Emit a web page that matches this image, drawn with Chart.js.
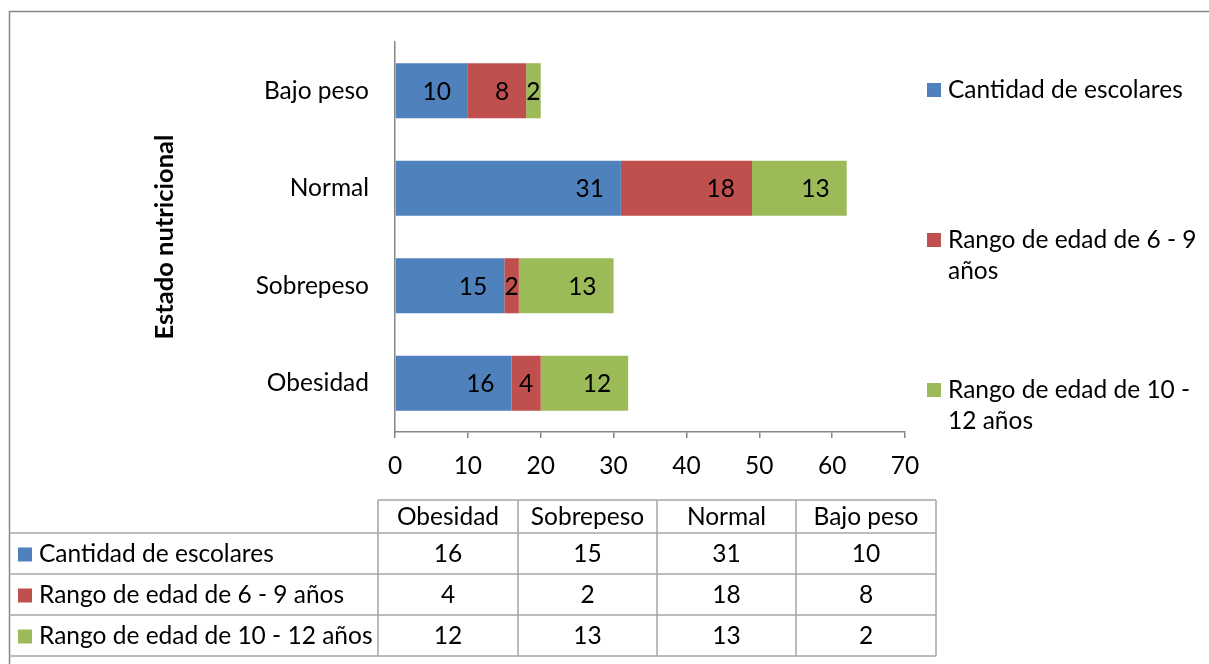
<!DOCTYPE html>
<html>
<head>
<meta charset="utf-8">
<script src="https://cdn.jsdelivr.net/npm/chart.js@4.4.1/dist/chart.umd.min.js"></script>
<style>
  html, body { margin: 0; padding: 0; background: #fff; }
</style>
</head>
<body>
<canvas id="estadoChart" width="1209" height="664"></canvas>
<script>
// datos (orden de la tabla de Excel)
const categories = ["Obesidad", "Sobrepeso", "Normal", "Bajo peso"];
const seriesNames = ["Cantidad de escolares", "Rango de edad de 6 - 9 años", "Rango de edad de 10 - 12 años"];
const cantidadEscolares = [16, 15, 31, 10];
const rango6a9 = [4, 2, 18, 8];
const rango10a12 = [12, 13, 13, 2];
const xTickValues = [0, 10, 20, 30, 40, 50, 60, 70];
const colors = ["#4F81BD", "#C0504D", "#9BBB59"];

const FONT = "Lato";
const FONT_SIZE = 24.5;
const TITLE_SIZE = 25.5;
const GRAY = "#868686";

function font(size, bold) {
    return (bold ? "bold " : "") + size + "px " + FONT;
}

// etiquetas de valor dentro de las barras (extremo interior)
const barLabels = {
    id: "barLabels",
    afterDatasetsDraw(chart) {
        const ctx = chart.ctx;
        ctx.save();
        ctx.font = font(FONT_SIZE);
        ctx.fillStyle = "#000";
        ctx.textAlign = "center";
        ctx.textBaseline = "middle";
        chart.data.datasets.forEach((ds, i) => {
            chart.getDatasetMeta(i).data.forEach((bar, j) => {
                const text = String(ds.data[j]);
                const w = ctx.measureText(text).width;
                const { x, base, y } = bar.getProps(["x", "base", "y"], true);
                const cx = Math.max((x + base) / 2, x - 17 - w / 2);
                ctx.fillText(text, cx, y + 1);
            });
        });
        ctx.restore();
    }
};

function wrapText(ctx, text, maxWidth) {
    const words = text.split(" ");
    const lines = [];
    let line = "";
    words.forEach(w => {
        const test = line ? line + " " + w : w;
        if (ctx.measureText(test).width > maxWidth && line) {
            lines.push(line);
            line = w;
        } else {
            line = test;
        }
    });
    lines.push(line);
    return lines;
}

// borde, leyenda a la derecha y tabla de datos
const extras = {
    id: "extras",
    afterDraw(chart) {
        const ctx = chart.ctx;
        const ds = chart.data.datasets;
        ctx.save();

        // borde exterior
        ctx.strokeStyle = GRAY;
        ctx.lineWidth = 1.5;
        ctx.strokeRect(9.5, 11.5, 1400, 800);

        // leyenda
        ctx.font = font(FONT_SIZE);
        ctx.textAlign = "left";
        ctx.textBaseline = "middle";
        const legendY = [90, 240, 390];
        ds.forEach((d, i) => {
            const lines = wrapText(ctx, d.label, 258);
            ctx.fillStyle = d.backgroundColor;
            ctx.fillRect(927, legendY[i] - 7, 14, 14);
            ctx.fillStyle = "#000";
            lines.forEach((ln, k) => ctx.fillText(ln, 948, legendY[i] + k * 31));
        });

        // tabla
        const colX = [9, 378, 518, 657, 796, 936];
        const rowY = [500, 533, 574, 615, 656];
        ctx.strokeStyle = "#A6A6A6";
        ctx.lineWidth = 1.5;
        ctx.beginPath();
        ctx.moveTo(colX[1], rowY[0]);
        ctx.lineTo(colX[5], rowY[0]);
        for (let r = 1; r < rowY.length; r++) {
            ctx.moveTo(colX[0], rowY[r]);
            ctx.lineTo(colX[5], rowY[r]);
        }
        for (let c = 1; c < colX.length; c++) {
            ctx.moveTo(colX[c], rowY[0]);
            ctx.lineTo(colX[c], rowY[4]);
        }
        ctx.stroke();

        ctx.fillStyle = "#000";
        ctx.textAlign = "center";
        categories.forEach((cat, c) => {
            ctx.fillText(cat, (colX[c + 1] + colX[c + 2]) / 2, (rowY[0] + rowY[1]) / 2 + 1);
        });
        ds.forEach((d, r) => {
            const cy = (rowY[r + 1] + rowY[r + 2]) / 2 + 1;
            ctx.fillStyle = d.backgroundColor;
            ctx.fillRect(18, cy - 7, 14, 14);
            ctx.fillStyle = "#000";
            ctx.textAlign = "left";
            ctx.fillText(d.label, 39, cy);
            ctx.textAlign = "center";
            d.data.forEach((v, c) => {
                ctx.fillText(String(v), (colX[c + 1] + colX[c + 2]) / 2, cy);
            });
        });

        ctx.restore();
    }
};

function drawChart() {
    const ctx = document.getElementById("estadoChart").getContext("2d");
    const seriesData = [cantidadEscolares, rango6a9, rango10a12];

    new Chart(ctx, {
        type: "bar",
        data: {
            labels: categories,
            datasets: seriesData.map((d, i) => ({
                label: seriesNames[i],
                data: d,
                backgroundColor: colors[i],
                borderWidth: 0,
                barPercentage: 0.565,
                categoryPercentage: 1
            }))
        },
        options: {
            indexAxis: "y",
            responsive: false,
            animation: false,
            devicePixelRatio: 1,
            layout: {
                padding: { left: 145, right: 304, top: 42, bottom: 182 }
            },
            plugins: {
                legend: { display: false },
                tooltip: { enabled: false }
            },
            scales: {
                x: {
                    stacked: true,
                    min: 0,
                    max: 70,
                    afterBuildTicks: scale => {
                        scale.ticks = xTickValues.map(v => ({ value: v }));
                    },
                    afterFit: scale => { scale.height = 50; },
                    grid: {
                        drawOnChartArea: false,
                        drawTicks: true,
                        tickLength: 6,
                        color: GRAY,
                        lineWidth: 1.5
                    },
                    border: { color: GRAY, width: 1.5 },
                    ticks: {
                        color: "#000",
                        font: { family: FONT, size: FONT_SIZE },
                        padding: 13,
                        maxRotation: 0
                    }
                },
                y: {
                    stacked: true,
                    reverse: true,
                    afterFit: scale => { scale.width = 250; },
                    grid: {
                        drawOnChartArea: false,
                        drawTicks: false
                    },
                    border: { color: GRAY, width: 1.5 },
                    ticks: {
                        color: "#000",
                        font: { family: FONT, size: FONT_SIZE },
                        padding: 26
                    },
                    title: {
                        display: true,
                        text: "Estado nutricional",
                        color: "#000",
                        font: { family: FONT, size: TITLE_SIZE, weight: "bold" }
                    }
                }
            }
        },
        plugins: [barLabels, extras]
    });
}

document.fonts.load(font(FONT_SIZE)).then(() => document.fonts.load(font(TITLE_SIZE, true))).then(drawChart, drawChart);
</script>
</body>
</html>
